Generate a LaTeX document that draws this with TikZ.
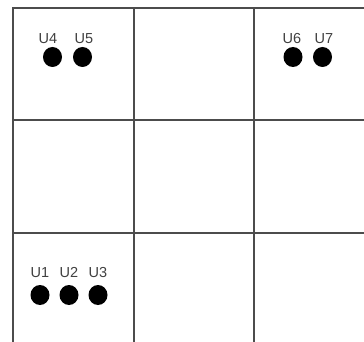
\documentclass[tikz,border=0pt]{standalone}
\usepackage{fontspec}
\setmainfont{Liberation Sans}
\usetikzlibrary{shapes.geometric}
\begin{document}
\begin{tikzpicture}[x=1pt,y=-1pt,
  gridline/.style={line width=1.6pt, draw=black!70},
  unit/.style={ellipse, fill=black, minimum width=19pt, minimum height=20pt, inner sep=0pt},
  ulabel/.style={font=\fontsize{14.5}{14.5}\selectfont, text=black!75, inner sep=0pt}]
\useasboundingbox (0,0) rectangle (364,342);
% grid
\foreach \x in {13,134,254} \draw[gridline] (\x,7.2) -- (\x,342);
\foreach \y in {8,120,233} \draw[gridline] (12.2,\y) -- (364,\y);
% units
\node[unit] (u4) at (52.5,57) {};
\node[unit] (u5) at (82.5,57) {};
\node[unit] (u6) at (293,57) {};
\node[unit] (u7) at (322.5,57) {};
\node[unit] (u1) at (40,295) {};
\node[unit] (u2) at (69,295) {};
\node[unit] (u3) at (98,295) {};
\node[ulabel] (l4) at (48,38.5) {U4};
\node[ulabel] (l5) at (84,38.5) {U5};
\node[ulabel] (l6) at (292,38.5) {U6};
\node[ulabel] (l7) at (324,38.5) {U7};
\node[ulabel] (l1) at (40,273) {U1};
\node[ulabel] (l2) at (69,273) {U2};
\node[ulabel] (l3) at (98,273) {U3};
\end{tikzpicture}
\end{document}
